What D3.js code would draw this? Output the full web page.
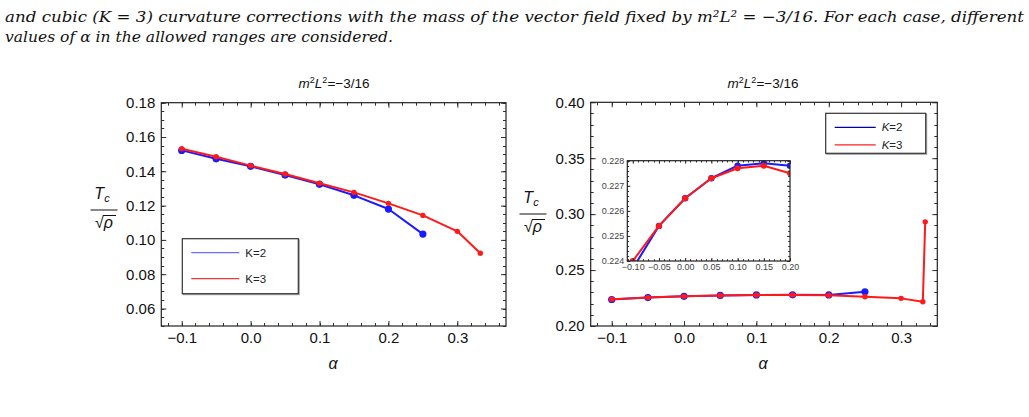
<!DOCTYPE html>
<html>
<head>
<meta charset="utf-8">
<script src="https://cdn.jsdelivr.net/npm/d3@7"></script>
<style>
  body { margin: 0; background: #fff; }
  svg { display: block; }
  .tick text { font-family: "Liberation Sans", Arial, sans-serif; }
</style>
</head>
<body>
<div id="chart"></div>
<script>
// data
const alphaK2 = [-0.1, -0.05, 0, 0.05, 0.1, 0.15, 0.2, 0.25];
const leftK2 = [0.1522, 0.1473, 0.1429, 0.1378, 0.1324, 0.1260, 0.1180, 0.1034];
const alphaK3Left = [-0.1, -0.05, 0, 0.05, 0.1, 0.15, 0.2, 0.25, 0.3, 0.3333];
const leftK3 = [0.1532, 0.1485, 0.1433, 0.1384, 0.1330, 0.1277, 0.1213, 0.1143, 0.1050, 0.0922];

const rightK2 = [0.2237, 0.2254, 0.2265, 0.2273, 0.2278, 0.2279, 0.2278, 0.2306];
const alphaK3Right = [-0.1, -0.05, 0, 0.05, 0.1, 0.15, 0.2, 0.25, 0.3, 0.33, 0.3333];
const rightK3 = [0.2240, 0.2254, 0.2265, 0.2273, 0.2277, 0.2278, 0.2275, 0.2262, 0.2247, 0.2217, 0.2931];

const xTicks = [-0.1, 0, 0.1, 0.2, 0.3];
const leftYTicks = [0.06, 0.08, 0.10, 0.12, 0.14, 0.16, 0.18];
const rightYTicks = [0.20, 0.25, 0.30, 0.35, 0.40];
const insetXTicks = [-0.10, -0.05, 0, 0.05, 0.10, 0.15, 0.20];
const insetYTicks = [0.224, 0.225, 0.226, 0.227, 0.228];
const legendLabels = ["K=2", "K=3"];

const width = 1029, height = 417;
const svg = d3.select("#chart").append("svg")
    .attr("width", width).attr("height", height);

const sans = '"Liberation Sans", Arial, sans-serif';
const blue = "#1a1aff", red = "#ff1a1a";

// caption lines (top of the page)
const cap = svg.append("g")
    .attr("font-family", '"DejaVu Serif", serif')
    .attr("font-style", "italic")
    .attr("font-size", 15)
    .attr("fill", "#111");
cap.append("text").attr("x", 5).attr("y", 22)
    .attr("textLength", 1019).attr("lengthAdjust", "spacingAndGlyphs")
    .text("and cubic (K = 3) curvature corrections with the mass of the vector field fixed by m\u00b2L\u00b2 = \u22123/16. For each case, different");
cap.append("text").attr("x", 5).attr("y", 42)
    .attr("textLength", 388).attr("lengthAdjust", "spacingAndGlyphs")
    .text("values of \u03b1 in the allowed ranges are considered.");

// draws the frame with ticks on all four sides
function frame(g, x, y, opt) {
    const [x0, x1] = x.range();
    const [y0, y1] = y.range(); // y0 bottom, y1 top
    const minorX = d3.range(opt.xMinorStart, x.domain()[1], opt.xMinorStep).filter(v => v > x.domain()[0]);
    const minorY = d3.range(opt.yMinorStart, y.domain()[1] + 1e-9, opt.yMinorStep).filter(v => v >= y.domain()[0] - 1e-9);

    const bottom = g.append("g").attr("transform", `translate(0,${y0})`)
        .call(d3.axisBottom(x).tickValues(opt.xTicks).tickFormat(d3.format(opt.xFmt))
            .tickSizeInner(-opt.major).tickSizeOuter(0).tickPadding(opt.pad));
    const left = g.append("g").attr("transform", `translate(${x0},0)`)
        .call(d3.axisLeft(y).tickValues(opt.yTicks).tickFormat(d3.format(opt.yFmt))
            .tickSizeInner(-opt.major).tickSizeOuter(0).tickPadding(opt.pad));
    const top = g.append("g").attr("transform", `translate(0,${y1})`)
        .call(d3.axisTop(x).tickValues(opt.xTicks).tickFormat("").tickSizeInner(-opt.major).tickSizeOuter(0));
    const right = g.append("g").attr("transform", `translate(${x1},0)`)
        .call(d3.axisRight(y).tickValues(opt.yTicks).tickFormat("").tickSizeInner(-opt.major).tickSizeOuter(0));
    [bottom, left, top, right].forEach(a => {
        a.select(".domain").remove();
        a.selectAll("line").attr("stroke", "#333");
        a.selectAll("text").attr("font-size", opt.fs).attr("fill", opt.labelColor)
            .attr("font-family", sans);
    });
    // minor ticks
    const mg = g.append("g").attr("stroke", "#333").attr("stroke-width", 1);
    minorX.forEach(v => {
        const px = Math.round(x(v)) + 0.5;
        mg.append("line").attr("x1", px).attr("x2", px).attr("y1", y0).attr("y2", y0 - opt.minor);
        mg.append("line").attr("x1", px).attr("x2", px).attr("y1", y1).attr("y2", y1 + opt.minor);
    });
    minorY.forEach(v => {
        const py = Math.round(y(v)) + 0.5;
        mg.append("line").attr("x1", x0).attr("x2", x0 + opt.minor).attr("y1", py).attr("y2", py);
        mg.append("line").attr("x1", x1).attr("x2", x1 - opt.minor).attr("y1", py).attr("y2", py);
    });
    g.append("rect").attr("x", x0).attr("y", y1).attr("width", x1 - x0).attr("height", y0 - y1)
        .attr("fill", "none").attr("stroke", "#222").attr("stroke-width", 1.2);
}

function series(g, x, y, xs, ys, color, r, lw) {
    const pts = xs.map((a, i) => [a, ys[i]]);
    g.append("path").datum(pts)
        .attr("fill", "none").attr("stroke", color).attr("stroke-width", lw)
        .attr("stroke-linejoin", "round")
        .attr("d", d3.line().x(d => x(d[0])).y(d => y(d[1])));
    g.selectAll(null).data(pts).enter().append("circle")
        .attr("cx", d => x(d[0])).attr("cy", d => y(d[1])).attr("r", r)
        .attr("fill", color);
}

function title(cx) {
    const t = svg.append("text").attr("x", cx).attr("y", 88).attr("text-anchor", "middle")
        .attr("font-family", sans).attr("font-size", 13.5).attr("fill", "#111");
    t.append("tspan").attr("font-style", "italic").text("m");
    t.append("tspan").attr("font-size", 9).attr("dy", -5).text("2");
    t.append("tspan").attr("font-style", "italic").attr("dy", 5).text("L");
    t.append("tspan").attr("font-size", 9).attr("dy", -5).text("2");
    t.append("tspan").attr("dy", 5).text("=\u22123/16");
}

function yLabel(cx, cy) {
    const g = svg.append("g").attr("font-family", sans).attr("fill", "#111");
    const t = g.append("text").attr("x", cx - 2).attr("y", cy - 11).attr("text-anchor", "middle")
        .attr("font-size", 16);
    t.append("tspan").attr("font-style", "italic").text("T");
    t.append("tspan").attr("font-style", "italic").attr("font-size", 11).attr("dy", 3).text("c");
    g.append("line").attr("x1", cx - 13.5).attr("x2", cx + 13.5).attr("y1", cy).attr("y2", cy)
        .attr("stroke", "#111").attr("stroke-width", 1);
    const b = g.append("text").attr("x", cx).attr("y", cy + 18).attr("text-anchor", "middle")
        .attr("font-size", 16);
    b.append("tspan").text("\u221a");
    b.append("tspan").attr("font-style", "italic").text("\u03c1");
    g.append("line").attr("x1", cx - 1).attr("x2", cx + 12).attr("y1", cy + 5.5).attr("y2", cy + 5.5)
        .attr("stroke", "#111").attr("stroke-width", 1);
}

function xLabel(cx) {
    svg.append("text").attr("x", cx).attr("y", 369).attr("text-anchor", "middle")
        .attr("font-family", sans).attr("font-style", "italic").attr("font-size", 16)
        .attr("fill", "#111").text("\u03b1");
}

function legend(x0, y0, w, h, colors, italic, lineLen, rowGap, fs) {
    const g = svg.append("g");
    g.append("rect").attr("x", x0 + 1).attr("y", y0 + 1).attr("width", w).attr("height", h)
        .attr("fill", "none").attr("stroke", "#999").attr("stroke-width", 1);
    g.append("rect").attr("x", x0).attr("y", y0).attr("width", w).attr("height", h)
        .attr("fill", "#fff").attr("stroke", "#333").attr("stroke-width", 1.2);
    legendLabels.forEach((lab, i) => {
        const yy = y0 + 14 + i * rowGap;
        g.append("line").attr("x1", x0 + 9).attr("x2", x0 + 9 + lineLen).attr("y1", yy).attr("y2", yy)
            .attr("stroke", colors[i]).attr("stroke-width", 1.3);
        const t = g.append("text").attr("x", x0 + 15 + lineLen).attr("y", yy + 4)
            .attr("font-family", sans).attr("font-size", fs).attr("fill", "#222");
        if (italic) {
            t.append("tspan").attr("font-style", "italic").text(lab[0]);
            t.append("tspan").text(lab.slice(1));
        } else t.text(lab);
    });
}

// ---------- left panel ----------
const xL = d3.scaleLinear().domain([-0.1296, 0.3706]).range([161.3, 506]);
const yL = d3.scaleLinear().domain([0.0498, 0.18]).range([326, 102.7]);
const gL = svg.append("g");
frame(gL, xL, yL, {
    xTicks: xTicks, yTicks: leftYTicks, xFmt: ".1f", yFmt: ".2f",
    xMinorStart: -0.12, xMinorStep: 0.02, yMinorStart: 0.05, yMinorStep: 0.005,
    major: 5, minor: 3, pad: 6, fs: 15, labelColor: "#111"
});
series(gL, xL, yL, alphaK2, leftK2, blue, 3.6, 2);
series(gL, xL, yL, alphaK3Left, leftK3, red, 2.7, 2);
legend(182.3, 238.7, 116, 55, ["#6b6bff", "#e8383a"], false, 48, 26, 11.5);
title(334);
yLabel(104, 210);
xLabel(333);

// ---------- right panel ----------
const xR = d3.scaleLinear().domain([-0.129, 0.350]).range([590.7, 937.3]);
const yR = d3.scaleLinear().domain([0.2, 0.4]).range([326, 102.3]);
const gR = svg.append("g");
frame(gR, xR, yR, {
    xTicks: xTicks, yTicks: rightYTicks, xFmt: ".1f", yFmt: ".2f",
    xMinorStart: -0.12, xMinorStep: 0.02, yMinorStart: 0.2, yMinorStep: 0.01,
    major: 5, minor: 3, pad: 6, fs: 15, labelColor: "#111"
});
series(gR, xR, yR, alphaK2, rightK2, blue, 3.6, 2);
series(gR, xR, yR, alphaK3Right, rightK3, red, 2.7, 2);
legend(825.7, 113.3, 100, 40, ["#0000a8", "#ff2020"], true, 41, 17.5, 11.5);
title(763);
yLabel(533, 214);
xLabel(763);

// ---------- inset ----------
const xI = d3.scaleLinear().domain([-0.1104, 0.2]).range([627.3, 790]);
const yI = d3.scaleLinear().domain([0.224, 0.228]).range([261, 160.7]);
const gI = svg.append("g");
gI.append("rect").attr("x", 627.3).attr("y", 160.7).attr("width", 162.7).attr("height", 100.3)
    .attr("fill", "#fff");
svg.append("defs").append("clipPath").attr("id", "insetClip")
    .append("rect").attr("x", 627.3).attr("y", 160.7).attr("width", 162.7).attr("height", 100.3);
const gData = gI.append("g").attr("clip-path", "url(#insetClip)");
series(gData, xI, yI, alphaK2, rightK2, blue, 3.2, 2);
series(gData, xI, yI, alphaK3Right, rightK3, red, 3, 2);
frame(gI, xI, yI, {
    xTicks: insetXTicks, yTicks: insetYTicks, xFmt: ".2f", yFmt: ".3f",
    xMinorStart: -0.11, xMinorStep: 0.01, yMinorStart: 0.224, yMinorStep: 0.0002,
    major: 3, minor: 1.8, pad: 3, fs: 9, labelColor: "#444"
});
</script>
</body>
</html>
